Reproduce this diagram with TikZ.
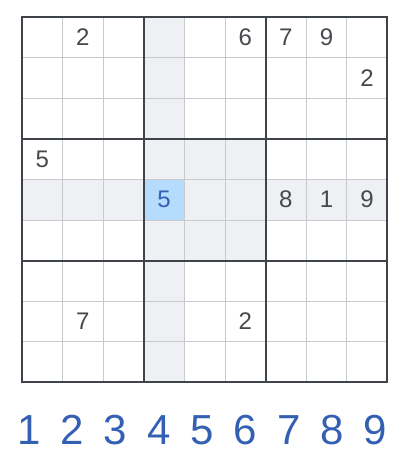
\documentclass[tikz,border=0pt]{standalone}
\usepackage{fontspec}
\setmainfont{Liberation Sans}
\definecolor{thinline}{HTML}{C9CACD}
\definecolor{thickline}{HTML}{3E444A}
\definecolor{hl}{HTML}{EEF0F3}
\definecolor{sel}{HTML}{B5DCFC}
\definecolor{given}{HTML}{45494E}
\definecolor{pick}{HTML}{3460B4}
\tikzset{
  cellfill/.style={fill=hl, draw=none},
  selfill/.style={fill=sel, draw=none},
  thin/.style={draw=thinline, line width=1pt},
  thick/.style={draw=thickline, line width=2pt},
  givennum/.style={font=\fontsize{24}{24}\selectfont, text=given, inner sep=0pt, anchor=center},
  selnum/.style={font=\fontsize{24}{24}\selectfont, text=pick, inner sep=0pt, anchor=center},
  padnum/.style={font=\fontsize{42}{42}\selectfont, text=pick, inner sep=0pt, anchor=center}
}
\begin{document}
\begin{tikzpicture}[x=1pt,y=-1pt]
\useasboundingbox (0,0) rectangle (408,465);
\def\gx{22}\def\gy{17}\def\cs{40.6}
% highlights
\foreach \c in {0,...,8} {
  \fill[hl] ({\gx+\c*\cs},{\gy+4*\cs}) rectangle ++(\cs,\cs);
  \fill[hl] ({\gx+3*\cs},{\gy+\c*\cs}) rectangle ++(\cs,\cs);
}
\fill[hl] ({\gx+3*\cs},{\gy+3*\cs}) rectangle ++({3*\cs},{3*\cs});
\fill[sel] ({\gx+3*\cs},{\gy+4*\cs}) rectangle ++(\cs,\cs);
% thin lines
\foreach \i in {1,2,4,5,7,8} {
  \draw[thin] ({\gx+\i*\cs},\gy) -- ({\gx+\i*\cs},{\gy+9*\cs});
  \draw[thin] (\gx,{\gy+\i*\cs}) -- ({\gx+9*\cs},{\gy+\i*\cs});
}
% thick lines
\foreach \i in {3,6} {
  \draw[thick] ({\gx+\i*\cs},\gy) -- ({\gx+\i*\cs},{\gy+9*\cs});
  \draw[thick] (\gx,{\gy+\i*\cs}) -- ({\gx+9*\cs},{\gy+\i*\cs});
}
\draw[thick] (\gx,\gy) rectangle ({\gx+9*\cs},{\gy+9*\cs});
% given digits: row/col/digit
\foreach \r/\c/\d [count=\k] in {0/1/2,0/5/6,0/6/7,0/7/9,1/8/2,3/0/5,4/6/8,4/7/1,4/8/9,7/1/7,7/5/2} {
  \node[givennum] (g\k) at ({\gx+(\c+0.5)*\cs},{\gy+(\r+0.5)*\cs}) {\d};
}
\node[selnum] (s1) at ({\gx+3.5*\cs},{\gy+4.5*\cs}) {5};
% number pad
\foreach \d in {1,...,9} {
  \node[padnum] (p\d) at ({29+(\d-1)*43.3},430) {\d};
}
\end{tikzpicture}
\end{document}
